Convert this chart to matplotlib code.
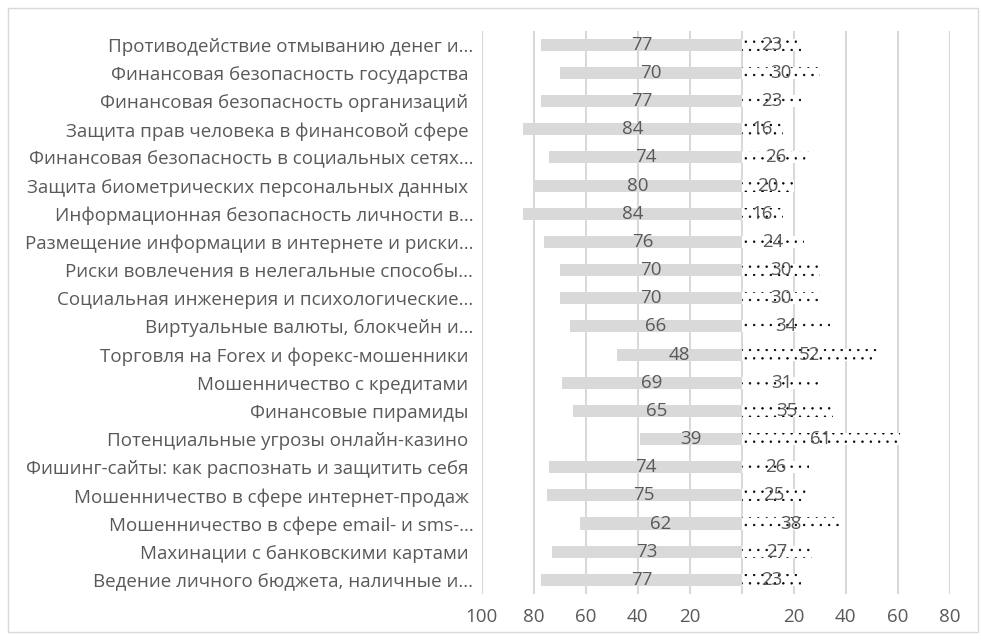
import matplotlib
matplotlib.use("Agg")
import matplotlib.pyplot as plt
from matplotlib.patches import Rectangle

plt.rcParams['font.family'] = ['Open Sans', 'DejaVu Sans']
plt.rcParams['hatch.linewidth'] = 0.5

# темы сверху вниз
темы = [
    "Противодействие отмыванию денег и...",
    "Финансовая безопасность государства ",
    "Финансовая безопасность организаций ",
    "Защита прав человека в финансовой сфере ",
    "Финансовая безопасность в социальных сетях...",
    "Защита биометрических персональных данных ",
    "Информационная безопасность личности в...",
    "Размещение информации в интернете и риски...",
    "Риски вовлечения в нелегальные способы...",
    "Социальная инженерия и психологические...",
    "Виртуальные валюты, блокчейн и...",
    "Торговля на Forex и форекс-мошенники ",
    "Мошенничество с кредитами ",
    "Финансовые пирамиды ",
    "Потенциальные угрозы онлайн-казино ",
    "Фишинг-сайты: как распознать и защитить себя ",
    "Мошенничество в сфере интернет-продаж ",
    "Мошенничество в сфере email- и sms-...",
    "Махинации с банковскими картами ",
    "Ведение личного бюджета, наличные и...",
]
левые = [77, 70, 77, 84, 74, 80, 84, 76, 70, 70, 66, 48, 69, 65, 39, 74, 75, 62, 73, 77]
правые = [23, 30, 23, 16, 26, 20, 16, 24, 30, 30, 34, 52, 31, 35, 61, 26, 25, 38, 27, 23]

тики = [-100, -80, -60, -40, -20, 0, 20, 40, 60, 80]
подписи_тиков = ['100', '80', '60', '40', '20', '', '20', '40', '60', '80']

серый = '#595959'
размер = 13.5

fig = plt.figure(figsize=(9.81, 6.40), dpi=100)
ax = fig.add_axes([0.491, 0.072, 0.477, 0.880])

y = list(range(len(темы)))
ax.barh(y, [-v for v in левые], height=0.43, color='#d9d9d9', zorder=2)
ax.barh(y, правые, height=0.43, color='white', edgecolor='#000000',
        hatch='..', linewidth=0, zorder=2)

for i in y:
    ax.text(-левые[i] / 2, i, str(левые[i]), ha='center', va='center',
            fontsize=размер, color=серый, zorder=3)
    ax.text(правые[i] / 2, i, str(правые[i]), ha='center', va='center',
            fontsize=размер, color=серый, zorder=3)

ax.set_xlim(-100, 80)
ax.set_ylim(len(темы) - 0.5, -0.5)
ax.set_xticks(тики)
ax.set_xticklabels(подписи_тиков)
ax.set_yticks(y)
ax.set_yticklabels(темы)
ax.tick_params(axis='both', length=0, labelsize=размер, labelcolor=серый)
ax.tick_params(axis='x', pad=10)
ax.tick_params(axis='y', pad=6)
ax.grid(axis='x', color='#d9d9d9', linewidth=1.5, zorder=0)
for s in ax.spines.values():
    s.set_visible(False)

fig.patches.append(Rectangle((8 / 981, 8 / 640), 970 / 981, 624 / 640,
                             transform=fig.transFigure, fill=False,
                             edgecolor='#d9d9d9', linewidth=1))

fig.savefig('out.png', dpi=100)
